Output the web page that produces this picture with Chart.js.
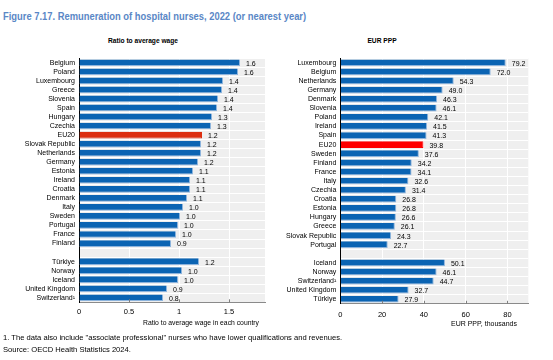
<!DOCTYPE html>
<html>
<head>
<meta charset="utf-8">
<script src="https://cdn.jsdelivr.net/npm/chart.js@4.4.1/dist/chart.umd.min.js"></script>
<style>
  html, body { margin: 0; padding: 0; background: #fff; }
  body { width: 553px; height: 360px; position: relative; overflow: hidden;
         font-family: "Liberation Sans Narrow", "Arial Narrow", "Liberation Sans", sans-serif; }
  .t { position: absolute; white-space: nowrap; color: #000; font-size: 8px; line-height: 10px; }
  #title { left: 3px; top: 9px; font-size: 11.5px; line-height: 14px; font-weight: bold; color: #5a87c6;
           transform: scaleX(0.815); transform-origin: 0 0; }
  .pt { font-weight: bold; transform: translateX(-50%) scaleX(0.83); }
  .at { transform: translateX(-100%); font-size: 7px; }
  .fn { font-size: 7.6px; }
  canvas { position: absolute; }
</style>
</head>
<body>
<div id="title" class="t">Figure 7.17. Remuneration of hospital nurses, 2022 (or nearest year)</div>
<div class="t pt" style="left:143px; top:36px;">Ratio to average wage</div>
<div class="t pt" style="left:382px; top:36px;">EUR PPP</div>
<canvas id="left" width="275" height="285" style="left:0px; top:50px;"></canvas>
<canvas id="right" width="278" height="285" style="left:275px; top:50px;"></canvas>
<div class="t at" style="left:259px; top:318px; font-size:6.8px;">Ratio to average wage in each country</div>
<div class="t at" style="left:517px; top:319px;">EUR PPP, thousands</div>
<div class="t fn" style="left:3px; top:333px;">1. The data also include "associate professional" nurses who have lower qualifications and revenues.</div>
<div class="t fn" style="left:3px; top:345px;">Source: OECD Health Statistics 2024.</div>
<script>
// ---- Data ----
const ratioCountries = ["Belgium","Poland","Luxembourg","Greece","Slovenia","Spain","Hungary","Czechia","EU20",
  "Slovak Republic","Netherlands","Germany","Estonia","Ireland","Croatia","Denmark","Italy","Sweden","Portugal",
  "France","Finland","","Türkiye","Norway","Iceland","United Kingdom","Switzerland¹"];
const ratioValues = [1.61,1.59,1.44,1.43,1.39,1.38,1.33,1.32,1.23,1.22,1.22,1.19,1.14,1.11,1.11,1.08,1.04,1.01,0.99,
  0.97,0.92,null,1.20,1.03,0.99,0.88,0.84];
const ratioTicks = [0, 0.5, 1, 1.5];

const eurCountries = ["Luxembourg","Belgium","Netherlands","Germany","Denmark","Slovenia","Poland","Ireland","Spain",
  "EU20","Sweden","Finland","France","Italy","Czechia","Croatia","Estonia","Hungary","Greece","Slovak Republic",
  "Portugal","","Iceland","Norway","Switzerland¹","United Kingdom","Türkiye"];
const eurValues = [79.2,72.0,54.3,49.0,46.3,46.1,42.1,41.5,41.3,39.8,37.6,34.2,34.1,32.6,31.4,26.8,26.8,26.6,26.1,
  24.3,22.7,null,50.1,46.1,44.7,32.7,27.9];
const eurTicks = [0, 20, 40, 60, 80];

// ---- Styling ----
const FONT = "'Liberation Sans Narrow', 'Arial Narrow', 'Liberation Sans', sans-serif";
const FS = 7;
const BLUE = "#0b64b3";
const GRAY_BG = "#efefef";

const bgPlugin = {
  id: 'bg',
  beforeDraw(chart) {
    const {ctx, chartArea: a} = chart;
    ctx.save();
    ctx.fillStyle = GRAY_BG;
    ctx.fillRect(a.left, a.top, a.right - a.left, a.bottom - a.top);
    ctx.restore();
  }
};
const labelPlugin = {
  id: 'vals',
  afterDatasetsDraw(chart) {
    const {ctx} = chart;
    const meta = chart.getDatasetMeta(0);
    const data = chart.data.datasets[0].data;
    ctx.save();
    ctx.font = FS + "px " + FONT;
    ctx.fillStyle = "#000";
    ctx.textAlign = "left";
    ctx.textBaseline = "middle";
    meta.data.forEach((bar, i) => {
      if (data[i] === null) return;
      ctx.fillText(data[i].toFixed(1), bar.x + 6, bar.y + 1);
    });
    ctx.restore();
  }
};
const tickMarkPlugin = {
  id: 'tickmarks',
  afterDraw(chart) {
    const {ctx, chartArea: a, scales: {x}} = chart;
    ctx.save();
    ctx.strokeStyle = "#7f7f7f";
    ctx.lineWidth = 1;
    x.ticks.forEach(t => {
      if (t.value === 0) return;
      const px = Math.round(x.getPixelForValue(t.value)) + 0.5;
      ctx.beginPath();
      ctx.moveTo(px, a.bottom);
      ctx.lineTo(px, a.bottom - 3);
      ctx.stroke();
    });
    ctx.restore();
  }
};

function makeChart(id, labels, values, ticks, max, euColor, yWidth, padTop, padRight, xHeight, tickPad) {
  const colors = labels.map(l => l === "EU20" ? euColor : BLUE);
  return new Chart(document.getElementById(id), {
    type: 'bar',
    data: {
      labels: labels,
      datasets: [{
        data: values,
        backgroundColor: colors,
        borderColor: labels.map(l => l === "EU20" ? euColor : "#8db4dd"),
        borderWidth: {top: 0, left: 0, right: 1, bottom: 1},
        borderSkipped: false,
        barPercentage: 0.74,
        categoryPercentage: 1.0
      }]
    },
    options: {
      indexAxis: 'y',
      responsive: false,
      animation: false,
      devicePixelRatio: 1,
      layout: { padding: { top: padTop, right: padRight, left: 0, bottom: 0 } },
      plugins: { legend: { display: false }, tooltip: { enabled: false }, title: { display: false } },
      scales: {
        x: {
          type: 'linear', min: 0, max: max,
          afterBuildTicks: s => { s.ticks = ticks.map(v => ({ value: v })); },
          afterFit: s => { s.height = xHeight; },
          grid: {
            color: c => (c.tick && c.tick.value === 0) ? 'rgba(0,0,0,0)' : '#ffffff',
            lineWidth: 1, drawTicks: false
          },
          border: { display: true, color: '#8a8a8a', width: 1 },
          ticks: {
            padding: tickPad, color: '#000', font: { family: FONT, size: FS + 0.5 },
            callback: v => String(v)
          }
        },
        y: {
          type: 'category',
          afterFit: s => { s.width = yWidth; },
          grid: { color: '#ffffff', lineWidth: 1, offset: true, drawTicks: false },
          border: { display: true, color: '#000000', width: 1 },
          ticks: { padding: 4, color: '#000', font: { family: FONT, size: FS }, autoSkip: false }
        }
      }
    },
    plugins: [bgPlugin, labelPlugin, tickMarkPlugin]
  });
}

makeChart('left', ratioCountries, ratioValues, ratioTicks, 1.86, '#dc2e10', 79, 3.3, 10, 32.7, 5.5);
makeChart('right', eurCountries, eurValues, eurTicks, 90, '#ff0000', 65.3, 2.7, 24.7, 31.2, 6.5);
</script>
</body>
</html>
